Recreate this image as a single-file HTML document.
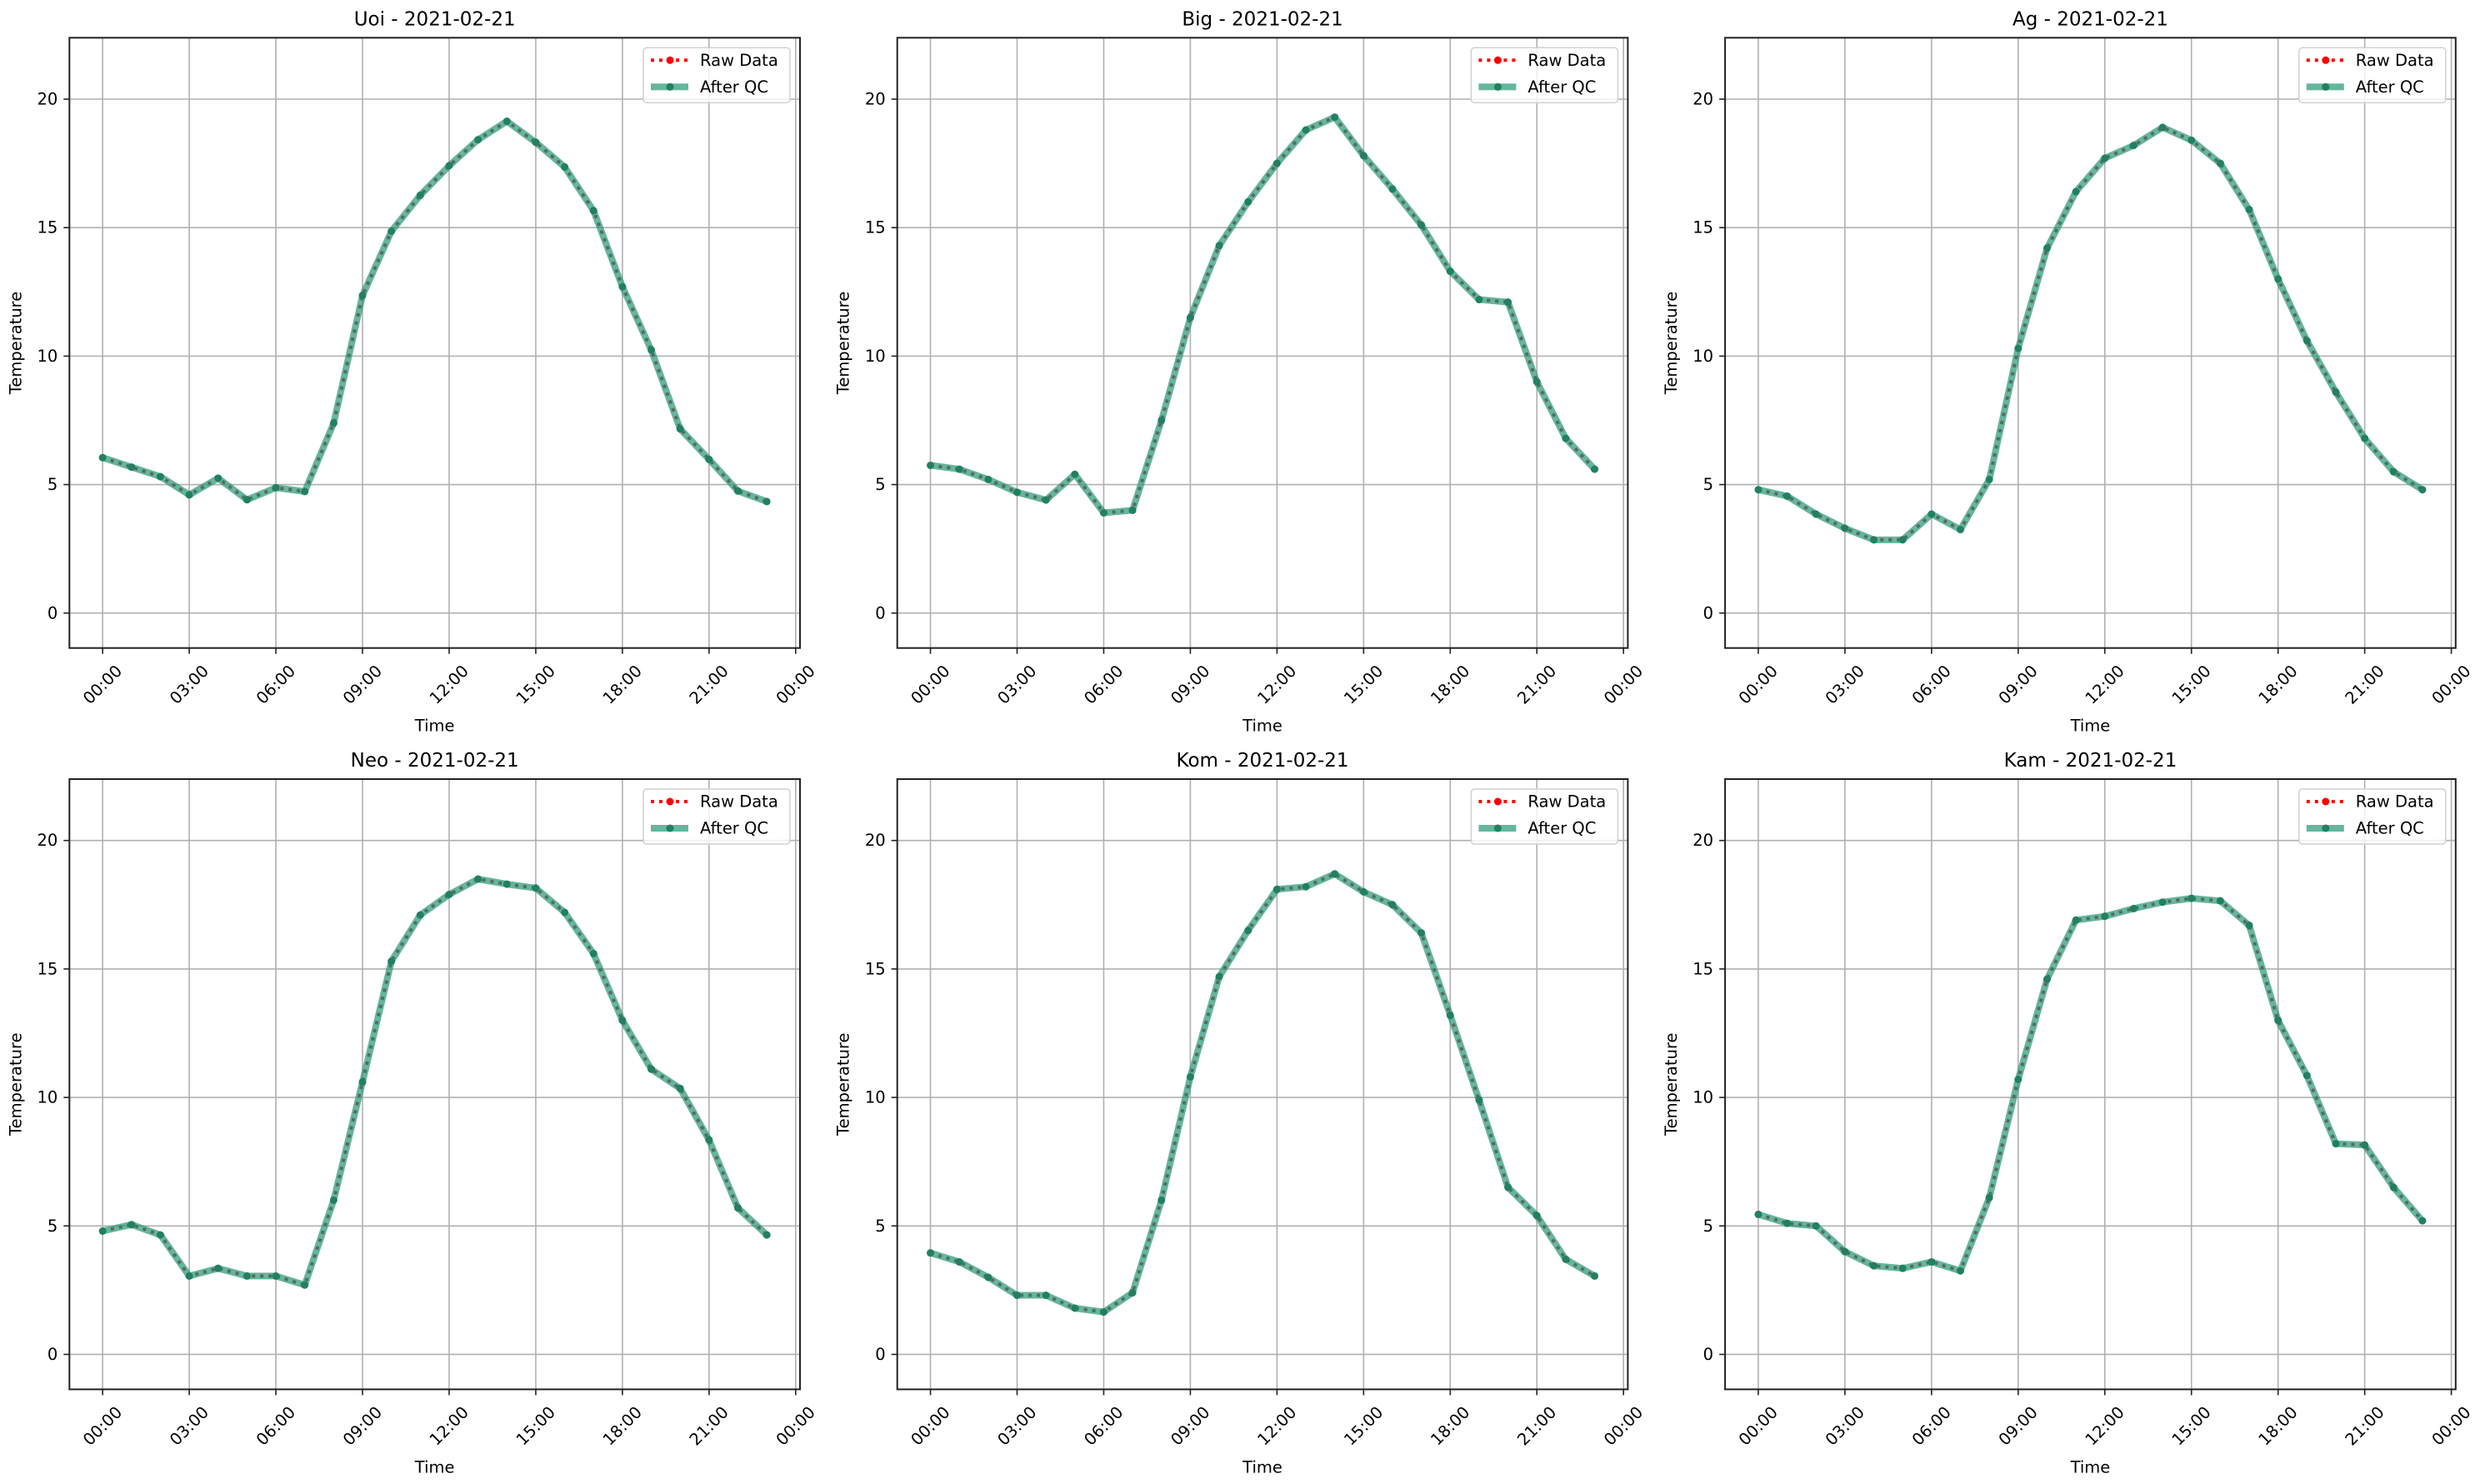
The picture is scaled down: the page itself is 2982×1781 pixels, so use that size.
<!DOCTYPE html>
<html><head><meta charset="utf-8">
<style>
html,body{margin:0;padding:0;background:#fff;}
svg{display:block;font-family:"DejaVu Sans","Liberation Sans",sans-serif;}
</style></head>
<body>
<svg id="fig" width="2982" height="1781" viewBox="0 0 2982 1781" xmlns="http://www.w3.org/2000/svg"></svg>
<script>
const stations = ["Uoi","Big","Ag","Neo","Kom","Kam"];
const dateLabel = "2021-02-21";
const hours = [0,1,2,3,4,5,6,7,8,9,10,11,12,13,14,15,16,17,18,19,20,21,22,23];
const uoiTemps = [6.05,5.68,5.31,4.6,5.25,4.41,4.88,4.73,7.39,12.36,14.86,16.26,17.41,18.42,19.14,18.32,17.36,15.66,12.7,10.24,7.17,5.98,4.75,4.34];
const bigTemps = [5.75,5.6,5.2,4.7,4.4,5.4,3.9,4.0,7.5,11.5,14.3,16.0,17.5,18.8,19.3,17.8,16.5,15.1,13.3,12.2,12.1,9.0,6.8,5.6];
const agTemps = [4.8,4.55,3.85,3.3,2.85,2.85,3.85,3.25,5.2,10.3,14.2,16.4,17.7,18.2,18.9,18.4,17.5,15.7,13.0,10.6,8.6,6.8,5.5,4.8];
const neoTemps = [4.8,5.05,4.65,3.05,3.35,3.05,3.05,2.7,6.0,10.6,15.3,17.1,17.9,18.5,18.3,18.15,17.2,15.6,13.0,11.1,10.35,8.35,5.7,4.65];
const komTemps = [3.95,3.6,3.0,2.3,2.3,1.8,1.65,2.4,6.0,10.8,14.7,16.5,18.1,18.2,18.7,18.0,17.5,16.4,13.2,9.9,6.5,5.4,3.7,3.05];
const kamTemps = [5.45,5.1,5.0,4.0,3.45,3.35,3.6,3.25,6.1,10.7,14.6,16.9,17.05,17.35,17.6,17.75,17.65,16.7,13.0,10.85,8.2,8.15,6.5,5.2];
const xTickHours = [0,3,6,9,12,15,18,21,24];
const xTickLabels = ["00:00","03:00","06:00","09:00","12:00","15:00","18:00","21:00","00:00"];
const yTicks = [0,5,10,15,20];

const allTemps = [uoiTemps,bigTemps,agTemps,neoTemps,komTemps,kamTemps];
const NS = "http://www.w3.org/2000/svg";
const svg = document.getElementById("fig");
function mk(tag, attrs, parent){
  const e = document.createElementNS(NS, tag);
  for (const k in attrs) e.setAttribute(k, attrs[k]);
  (parent||svg).appendChild(e);
  return e;
}
const lefts = [83.3, 1076.7, 2070.1];
const tops = [45.3, 935];
const W = 876.7, H = 732.4;
const xMin = -1.15, xMax = 24.15, yMin = -1.36, yMax = 22.39;
const FS = 19.5;

allTemps.forEach((temps, idx) => {
  const L = lefts[idx % 3], T = tops[Math.floor(idx / 3)];
  const xs = h => L + (h - xMin) / (xMax - xMin) * W;
  const ys = v => T + H - (v - yMin) / (yMax - yMin) * H;
  const g = mk("g", {});
  
  
  xTickHours.forEach(h => {
    const l = mk("line", {x1: xs(h), x2: xs(h), y1: T, y2: T + H, stroke: "#b0b0b0", "stroke-width": 1.6}, g);
    
    
  });
  yTicks.forEach(v => {
    const l = mk("line", {x1: L, x2: L + W, y1: ys(v), y2: ys(v), stroke: "#b0b0b0", "stroke-width": 1.6}, g);
    
    
  });
  const pts = hours.map((h, i) => xs(h).toFixed(1) + "," + ys(temps[i]).toFixed(1)).join(" ");
  const raw = mk("polyline", {points: pts, fill: "none", stroke: "#ff0000", "stroke-width": 4, "stroke-dasharray": "4,6"}, g);
  
  
  const qc = mk("polyline", {points: pts, fill: "none", stroke: "#2a9a78", "stroke-opacity": 0.72, "stroke-width": 8, "stroke-linejoin": "round"}, g);
  
  
  const dot = mk("polyline", {points: pts, fill: "none", stroke: "#4a6e5a", "stroke-width": 3, "stroke-dasharray": "4,6", "stroke-opacity": 0.7}, g);
  
  
  hours.forEach((h, i) => {
    const c = mk("circle", {cx: xs(h), cy: ys(temps[i]), r: 4.5, fill: "#22805f"}, g);
    
    
  });
  const fr = mk("rect", {x: L, y: T, width: W, height: H, fill: "none", stroke: "#222", "stroke-width": 2}, g);
  
  
  xTickHours.forEach((h, i) => {
    mk("line", {x1: xs(h), x2: xs(h), y1: T + H, y2: T + H + 7, stroke: "#222", "stroke-width": 1.6}, g);
    const cx = xs(h), cy = T + H + 44;
    const t = mk("text", {x: cx, y: cy, "font-size": FS, "text-anchor": "middle", "dominant-baseline": "central", transform: `rotate(-45 ${cx} ${cy})`, fill: "#000"}, g);
    t.textContent = xTickLabels[i];
    
    
  });
  yTicks.forEach(v => {
    mk("line", {x1: L - 7, x2: L, y1: ys(v), y2: ys(v), stroke: "#222", "stroke-width": 1.6}, g);
    const t = mk("text", {x: L - 14, y: ys(v), "font-size": FS, "text-anchor": "end", "dominant-baseline": "central", fill: "#000"}, g);
    t.textContent = v;
    
    
  });
  const title = mk("text", {x: L + W / 2, y: T - 15, "font-size": 23, "text-anchor": "middle", fill: "#000"}, g);
  title.textContent = stations[idx] + " - " + dateLabel;
  
  
  const xl = mk("text", {x: L + W / 2, y: T + H + 100, "font-size": FS, "text-anchor": "middle", fill: "#000"}, g);
  xl.textContent = "Time";
  
  
  const yx = L - 58, yy = T + H / 2;
  const yl = mk("text", {x: yx, y: yy, "font-size": FS, "text-anchor": "middle", transform: `rotate(-90 ${yx} ${yy})`, fill: "#000"}, g);
  yl.textContent = "Temperature";
  
  
  const lg = mk("g", {}, g);
  
  
  const lx = L + W - 188, ly = T + 12;
  mk("rect", {x: lx, y: ly, width: 176, height: 66, rx: 4, fill: "#fff", "fill-opacity": 0.8, stroke: "#d0d0d0", "stroke-width": 1.5}, lg);
  mk("line", {x1: lx + 9, x2: lx + 54, y1: ly + 15, y2: ly + 15, stroke: "#ff0000", "stroke-width": 4, "stroke-dasharray": "4,6"}, lg);
  mk("circle", {cx: lx + 32, cy: ly + 15, r: 4.5, fill: "#ff0000"}, lg);
  const t1 = mk("text", {x: lx + 68, y: ly + 15, "font-size": FS, "dominant-baseline": "central", fill: "#000"}, lg);
  t1.textContent = "Raw Data";
  
  
  mk("line", {x1: lx + 9, x2: lx + 54, y1: ly + 47, y2: ly + 47, stroke: "#2a9a78", "stroke-opacity": 0.72, "stroke-width": 8}, lg);
  mk("circle", {cx: lx + 32, cy: ly + 47, r: 4.5, fill: "#22805f"}, lg);
  const t2 = mk("text", {x: lx + 68, y: ly + 47, "font-size": FS, "dominant-baseline": "central", fill: "#000"}, lg);
  t2.textContent = "After QC";
  
  
});
</script>
</body></html>
